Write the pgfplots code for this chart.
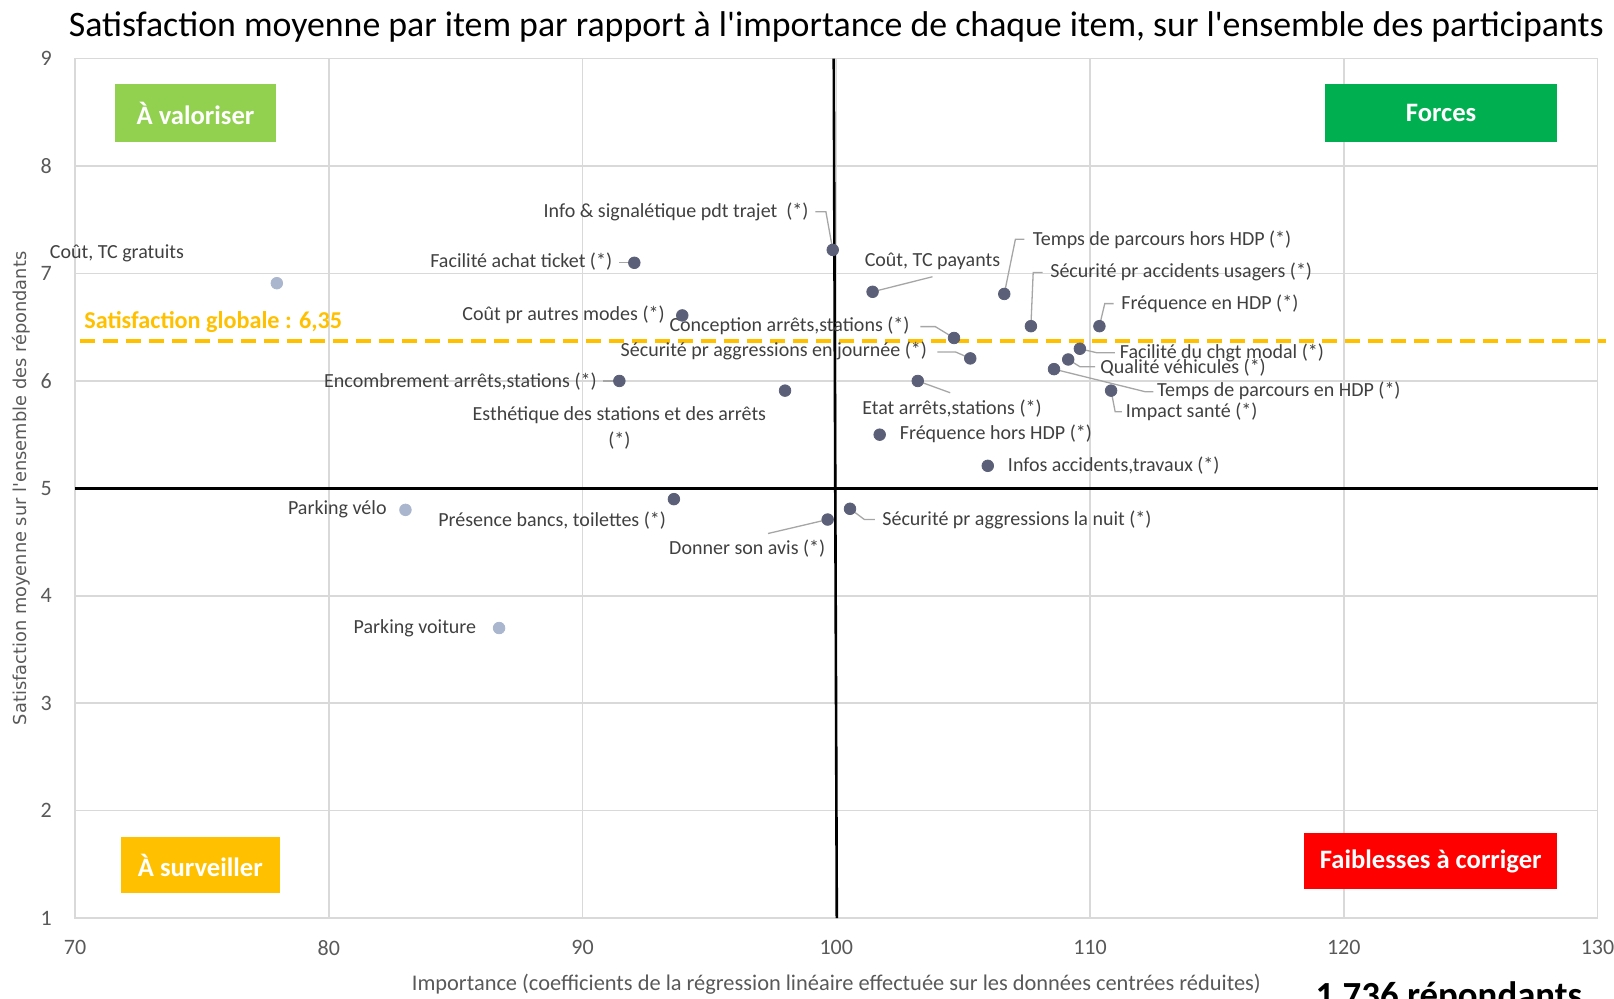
\documentclass[border=0pt]{standalone}
\usepackage{pgfplots}
\usepackage{pgfplotstable}
\pgfplotsset{compat=1.18}
\usepackage{fontspec}
\setmainfont{Carlito}[Ligatures=TeXOff]
\newfontfamily\dejavu{DejaVu Sans}
\definecolor{gridc}{HTML}{D9D9D9}
\definecolor{tickc}{HTML}{595959}
\definecolor{labc}{HTML}{404040}
\definecolor{leadc}{HTML}{A6A6A6}
\definecolor{darkpt}{HTML}{5B6078}
\definecolor{lightpt}{HTML}{A9B6CE}
\definecolor{orangec}{HTML}{FFC000}
\definecolor{greenl}{HTML}{92D050}
\definecolor{greend}{HTML}{00B050}
\definecolor{redc}{HTML}{FF0000}

\tikzset{
  lbl/.style={font=\fontsize{10}{12.9}\selectfont, text=labc, inner sep=0pt, text height=0.72em, text depth=0.22em},
  lead/.style={draw=leadc, line width=0.65pt},
  boxt/.style={text=white, font=\bfseries\fontsize{13.3}{15}\selectfont, inner sep=0pt},
}

% importance, satisfaction (items marked (*))
\pgfplotstableread{
x y
92.04 7.10
99.86 7.22
93.93 6.61
91.45 6.00
97.98 5.91
101.43 6.83
106.62 6.81
107.67 6.51
110.37 6.51
104.64 6.40
105.28 6.21
109.60 6.30
109.14 6.20
108.58 6.11
110.83 5.91
103.21 6.00
101.71 5.50
105.97 5.21
93.60 4.90
99.66 4.71
100.54 4.81
}\darkdata

% other items
\pgfplotstableread{
x y
77.95 6.91
83.02 4.80
86.71 3.70
}\lightdata

\begin{document}
\begin{tikzpicture}
\begin{axis}[
  at={(0,0)}, anchor=south west,
  scale only axis, width=761.2pt, height=429.7pt,
  xmin=70, xmax=130, ymin=1, ymax=9,
  xtick={70,80,...,130}, ytick={1,2,...,9},
  grid=major,
  major grid style={gridc, line width=0.75pt},
  axis line style={gridc, line width=0.75pt},
  tick style={draw=none},
  clip=false,
  /pgf/number format/assume math mode=true,
  ticklabel style={font=\fontsize{11}{13}\selectfont, text=tickc, inner sep=0pt},
  xticklabel style={anchor=north, yshift=-11pt},
  yticklabel style={anchor=east, xshift=-11.5pt},
]
% quadrant boxes
\fill[greenl] (axis cs:71.58,8.22) rectangle (axis cs:77.91,8.76);
\node[boxt] at (axis cs:74.745,8.49) {À valoriser};
\fill[greend] (axis cs:119.25,8.22) rectangle (axis cs:128.42,8.76);
\node[boxt] at (axis cs:123.835,8.49) {Forces};
\fill[orangec] (axis cs:71.79,1.229) rectangle (axis cs:78.08,1.757);
\node[boxt] at (axis cs:74.935,1.493) {À surveiller};
\fill[redc] (axis cs:118.44,1.268) rectangle (axis cs:128.42,1.795);
\node[boxt] at (axis cs:123.43,1.53) {Faiblesses à corriger};

% reference lines
\addplot[orangec, line width=2pt, dash pattern=on 7.5pt off 4pt] coordinates {(70.19,6.37) (130.33,6.37)};
\addplot[black, line width=1.3pt] coordinates {(70,5) (130,5)};
\addplot[black, line width=1.3pt] coordinates {(99.9,9) (100.02,1)};
\node[anchor=base west, inner sep=0pt, text=orangec, font=\bfseries\fontsize{12.1}{14}\selectfont] at (axis cs:70.35,6.49) {Satisfaction globale : 6,35};

% leader lines
\draw[lead] (axis cs:99.18,7.576) -- (axis cs:99.59,7.576) -- (axis cs:99.86,7.22);
\draw[lead] (axis cs:91.45,7.10) -- (axis cs:92.04,7.10);
\draw[lead] (axis cs:103.31,6.506) -- (axis cs:103.90,6.506) -- (axis cs:104.64,6.40);
\draw[lead] (axis cs:103.98,6.27) -- (axis cs:104.70,6.27) -- (axis cs:105.28,6.21);
\draw[lead] (axis cs:90.80,6.0) -- (axis cs:91.45,6.0);
\draw[lead] (axis cs:101.43,6.83) -- (axis cs:103.79,6.97);
\draw[lead] (axis cs:107.41,7.32) -- (axis cs:107.06,7.32) -- (axis cs:106.62,6.81);
\draw[lead] (axis cs:108.13,7.01) -- (axis cs:107.76,7.01) -- (axis cs:107.67,6.51);
\draw[lead] (axis cs:110.93,6.72) -- (axis cs:110.58,6.72) -- (axis cs:110.37,6.51);
\draw[lead] (axis cs:109.60,6.30) -- (axis cs:110.26,6.263) -- (axis cs:110.98,6.263);
\draw[lead] (axis cs:109.14,6.20) -- (axis cs:109.60,6.133) -- (axis cs:110.20,6.133);
\draw[lead] (axis cs:108.58,6.11) -- (axis cs:112.17,5.90) -- (axis cs:112.50,5.90);
\draw[lead] (axis cs:110.83,5.91) -- (axis cs:110.99,5.714) -- (axis cs:111.25,5.714);
\draw[lead] (axis cs:103.21,6.00) -- (axis cs:104.49,5.89);
\draw[lead] (axis cs:97.31,4.58) -- (axis cs:99.66,4.71);
\draw[lead] (axis cs:100.54,4.81) -- (axis cs:101.11,4.71) -- (axis cs:101.52,4.71);

% data labels
\node[lbl, anchor=west] at (axis cs:68.99,7.19) {Coût, TC gratuits};
\node[lbl, anchor=east] at (axis cs:98.92,7.57) {Info \& signalétique pdt trajet\ \ (*)};
\node[lbl, anchor=east] at (axis cs:91.18,7.10) {Facilité achat ticket (*)};
\node[lbl, anchor=east] at (axis cs:93.25,6.605) {Coût pr autres modes (*)};
\node[lbl, anchor=east] at (axis cs:102.90,6.51) {Conception arrêts,stations (*)};
\node[lbl, anchor=east] at (axis cs:103.59,6.27) {Sécurité pr aggressions en journée (*)};
\node[lbl, anchor=east] at (axis cs:90.57,5.983) {Encombrement arrêts,stations (*)};
\node[font=\fontsize{10}{12.9}\selectfont, text=labc, inner sep=0pt, align=center] at (axis cs:91.45,5.566) {Esthétique des stations et des arrêts\\(*)};
\node[lbl] at (axis cs:103.79,7.113) {Coût, TC payants};
\node[lbl, anchor=west] at (axis cs:107.73,7.305) {Temps de parcours hors HDP (*)};
\node[lbl, anchor=west] at (axis cs:108.42,7.008) {Sécurité pr accidents usagers (*)};
\node[lbl, anchor=west] at (axis cs:111.22,6.71) {Fréquence en HDP (*)};
\node[lbl, anchor=west] at (axis cs:111.16,6.26) {Facilité du chgt modal (*)};
\node[lbl, anchor=west] at (axis cs:110.39,6.12) {Qualité véhicules (*)};
\node[lbl, anchor=west] at (axis cs:112.63,5.90) {Temps de parcours en HDP (*)};
\node[lbl, anchor=west] at (axis cs:111.40,5.705) {Impact santé (*)};
\node[lbl] at (axis cs:104.56,5.734) {Etat arrêts,stations (*)};
\node[lbl, anchor=west] at (axis cs:102.49,5.504) {Fréquence hors HDP (*)};
\node[lbl, anchor=west] at (axis cs:106.75,5.207) {Infos accidents,travaux (*)};
\node[lbl] at (axis cs:88.80,4.69) {Présence bancs, toilettes (*)};
\node[lbl, anchor=east] at (axis cs:82.29,4.80) {Parking vélo};
\node[lbl] at (axis cs:96.49,4.43) {Donner son avis (*)};
\node[lbl, anchor=west] at (axis cs:101.80,4.70) {Sécurité pr aggressions la nuit (*)};
\node[lbl, anchor=east] at (axis cs:85.82,3.70) {Parking voiture};

% points
\addplot[only marks, mark=*, mark size=2.9pt, mark options={draw=lightpt, fill=lightpt}] table {\lightdata};
\addplot[only marks, mark=*, mark size=2.9pt, mark options={draw=darkpt, fill=darkpt}] table {\darkdata};

% title and axis titles
\node[anchor=base, inner sep=0pt, font=\fontsize{17.9}{20}\selectfont] at (axis cs:100,9.207) {Satisfaction moyenne par item par rapport à l'importance de chaque item, sur l'ensemble des participants};
\node[anchor=base, inner sep=0pt, text=tickc, font=\fontsize{11.2}{13}\selectfont] at (axis cs:100,0.33) {Importance (coefficients de la régression linéaire effectuée sur les données centrées réduites)};
\node[rotate=90, inner sep=0pt, text=tickc, font=\dejavu\fontsize{8.9}{10}\selectfont] at (axis cs:67.89,5.0) {Satisfaction moyenne sur l'ensemble des répondants};
\node[anchor=base west, inner sep=0pt, font=\bfseries\fontsize{18.4}{20}\selectfont] at (axis cs:118.88,0.172) {1 736 répondants};
\end{axis}
\pgfresetboundingbox
\path (-37.55pt,-40.45pt) rectangle (769.45pt,459.05pt);
\end{tikzpicture}
\end{document}
